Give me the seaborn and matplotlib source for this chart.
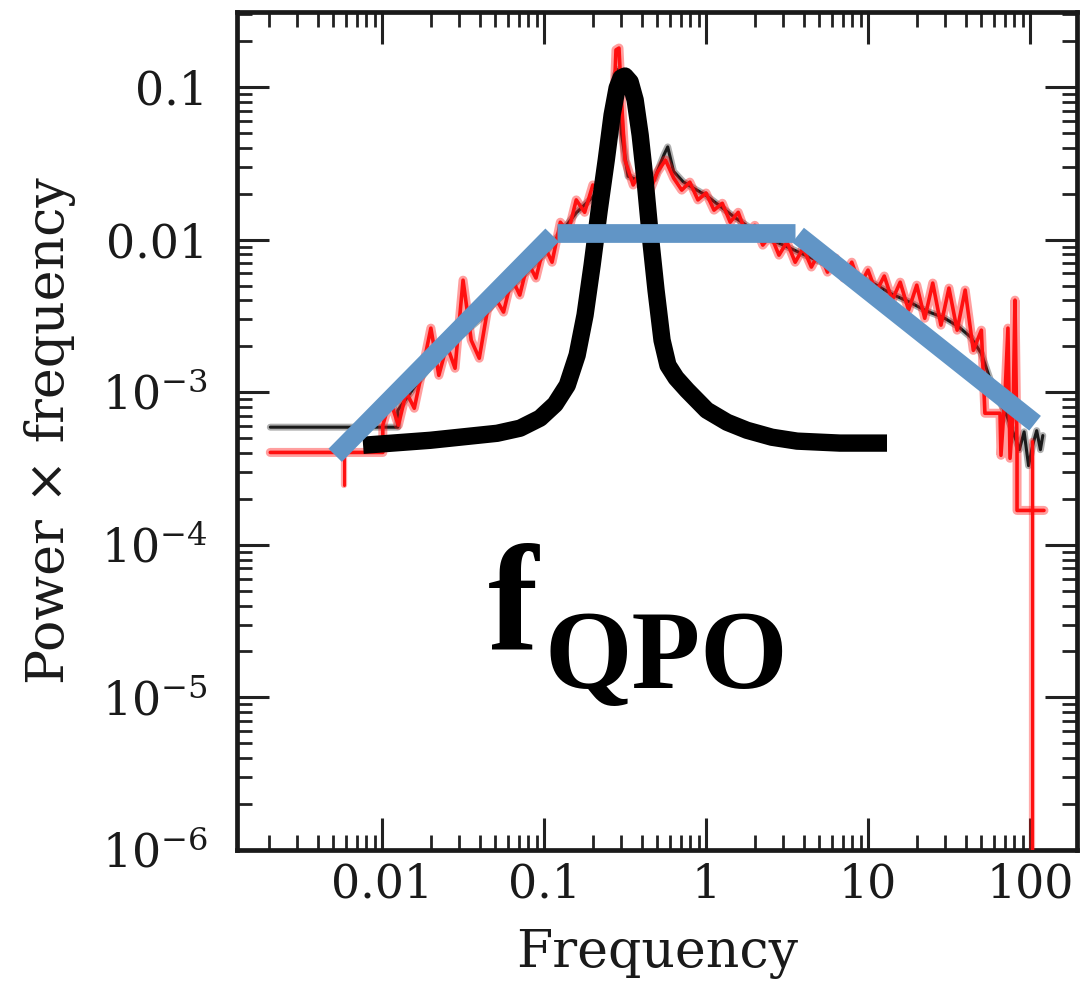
import matplotlib
matplotlib.use("Agg")
import matplotlib.pyplot as plt
import seaborn as sns
from matplotlib.ticker import LogLocator, NullFormatter

# ---- power spectrum (power x frequency), two observations ----
red_freq = [0.00204, 0.0101, 0.0101, 0.0112, 0.0126, 0.0141, 0.0158, 0.0178, 0.0200, 0.0224,
            0.0251, 0.0282, 0.0316, 0.0355, 0.0398, 0.0447, 0.0501, 0.0562, 0.0631, 0.0708,
            0.0794, 0.0891, 0.100, 0.112, 0.126, 0.141, 0.158, 0.178, 0.200, 0.224,
            0.251, 0.267, 0.278, 0.290, 0.303, 0.316, 0.355, 0.398, 0.447, 0.501,
            0.562, 0.631, 0.708, 0.794, 0.891, 1.00, 1.12, 1.26, 1.41, 1.58,
            1.78, 2.00, 2.24, 2.51, 2.82, 3.16, 3.55, 3.98, 4.47, 5.01,
            5.62, 6.31, 7.08, 7.94, 8.91, 10.0, 11.2, 12.6, 14.1, 15.8,
            17.8, 20.0, 22.4, 25.1, 28.2, 31.6, 35.5, 39.8, 44.7, 50.1,
            52.7, 65.3, 66.2, 70.1, 73.1, 75.3, 78.6, 80.8, 83.2, 83.2, 122.0]
red_power = [4.03e-4, 4.03e-4, 6.08e-4, 8.87e-4, 6.08e-4, 1.0e-3, 7.85e-4, 1.435e-3, 2.63e-3, 1.29e-3,
             2.03e-3, 1.435e-3, 5.42e-3, 2.19e-3, 1.67e-3, 3.45e-3, 4.13e-3, 3.35e-3, 5.60e-3, 4.33e-3,
             7.11e-3, 5.60e-3, 9.20e-3, 7.11e-3, 1.30e-2, 1.12e-2, 1.82e-2, 1.51e-2, 2.28e-2, 1.96e-2,
             3.08e-2, 6.08e-2, 0.175, 0.180, 0.0706, 3.32e-2, 2.28e-2, 2.86e-2, 2.05e-2, 2.77e-2,
             3.32e-2, 2.53e-2, 2.11e-2, 2.38e-2, 1.82e-2, 2.02e-2, 1.56e-2, 1.73e-2, 1.30e-2, 1.51e-2,
             1.07e-2, 1.24e-2, 9.20e-3, 1.07e-2, 7.91e-3, 9.64e-3, 7.11e-3, 8.79e-3, 6.61e-3, 8.28e-3,
             6.12e-3, 7.57e-3, 5.60e-3, 7.11e-3, 5.03e-3, 6.31e-3, 4.53e-3, 5.77e-3, 4.01e-3, 5.26e-3,
             3.45e-3, 5.03e-3, 3.05e-3, 5.19e-3, 2.75e-3, 4.81e-3, 2.55e-3, 4.67e-3, 1.88e-3, 2.55e-3,
             7.28e-4, 7.28e-4, 3.86e-4, 9.55e-4, 2.63e-3, 3.69e-4, 7.06e-4, 4.01e-3, 4.17e-4, 1.68e-4, 1.68e-4]

# error bars on the red spectrum (frequency, low, high)
red_err_freq = [0.0058, 103.0]
red_err_low = [2.45e-4, 1.0e-7]
red_err_high = [4.03e-4, 4.8e-4]

black_freq = [0.00204, 0.0125, 0.0125, 0.014, 0.017, 0.020, 0.025, 0.030, 0.040, 0.050,
              0.063, 0.080, 0.100, 0.126, 0.158, 0.200, 0.240, 0.260, 0.275, 0.285,
              0.300, 0.330, 0.400, 0.480, 0.550, 0.580, 0.630, 0.720, 0.850, 1.00,
              1.20, 1.50, 1.90, 2.40, 3.00, 4.00, 5.00, 6.50, 8.50, 11.0,
              14.0, 18.0, 23.0, 29.0, 36.0, 43.0, 50.0, 57.0, 64.0, 72.0,
              80.0, 86.0, 92.0, 98.0, 104.0, 110.0, 116.0, 120.0]
black_power = [5.9e-4, 5.9e-4, 7.6e-4, 9.0e-4, 1.2e-3, 1.5e-3, 1.9e-3, 2.3e-3, 3.0e-3, 3.9e-3,
               4.9e-3, 6.3e-3, 8.0e-3, 1.1e-2, 1.5e-2, 1.9e-2, 2.5e-2, 3.5e-2, 0.12, 0.13,
               0.05, 2.6e-2, 2.4e-2, 2.5e-2, 3.6e-2, 4.05e-2, 2.8e-2, 2.4e-2, 2.15e-2, 1.95e-2,
               1.68e-2, 1.4e-2, 1.18e-2, 1.02e-2, 9.2e-3, 8.0e-3, 7.2e-3, 6.5e-3, 5.8e-3, 5.1e-3,
               4.4e-3, 3.9e-3, 3.4e-3, 3.1e-3, 2.7e-3, 2.3e-3, 1.8e-3, 1.2e-3, 9.0e-4, 7.0e-4,
               5.2e-4, 4.2e-4, 5.5e-4, 3.3e-4, 4.5e-4, 5.6e-4, 4.2e-4, 5.2e-4]

# ---- sketched QPO profile ----
qpo_freq = [0.00763, 0.0198, 0.0513, 0.0711, 0.0945, 0.117, 0.139, 0.160, 0.179, 0.198,
            0.219, 0.242, 0.263, 0.2825, 0.2985, 0.316, 0.340, 0.365, 0.392, 0.420,
            0.451, 0.491, 0.535, 0.582, 0.653, 0.764, 1.01, 1.35, 1.79, 2.55,
            3.65, 6.71, 13.1]
qpo_power = [4.49e-4, 4.84e-4, 5.38e-4, 5.81e-4, 6.76e-4, 8.34e-4, 1.11e-3, 1.75e-3, 3.20e-3, 6.81e-3,
             1.56e-2, 3.32e-2, 6.55e-2, 0.0985, 0.1145, 0.118, 0.108, 0.0822, 0.0484, 0.0246,
             0.0110, 4.67e-3, 2.19e-3, 1.50e-3, 1.24e-3, 1.03e-3, 7.62e-4, 6.35e-4, 5.63e-4, 5.07e-4,
             4.78e-4, 4.64e-4, 4.64e-4]

# ---- broken power law sketch: three straight pieces ----
band_freq = [[0.00513, 0.112], [0.120, 3.54], [3.70, 107.5]]
band_power = [[3.86e-4, 0.0107], [0.0110, 0.0110], [0.0107, 6.26e-4]]

x_ticks = [0.01, 0.1, 1, 10, 100]
x_ticklabels = ["0.01", "0.1", "1", "10", "100"]
y_ticks = [1e-6, 1e-5, 1e-4, 1e-3, 1e-2, 1e-1]
y_ticklabels = ["$10^{-6}$", "$10^{-5}$", "$10^{-4}$", "$10^{-3}$", "0.01", "0.1"]

sns.set_theme(style="ticks")
plt.rcParams["font.family"] = ["DejaVu Serif", "DejaVu Sans"]
plt.rcParams["mathtext.fontset"] = "dejavuserif"

fig = plt.figure(figsize=(10.84, 9.93), dpi=100)
ax = fig.add_axes([0.2186, 0.1440, 0.7749, 0.8439])
ax.set_xscale("log")
ax.set_yscale("log")

RED = "#ff1010"
BLUE = "#6195C6"


def trace(x, y, color, lw, z, alpha=1.0):
    sns.lineplot(x=x, y=y, sort=False, estimator=None, color=color, lw=lw,
                 alpha=alpha, ax=ax, zorder=z)
    return ax.lines[-1]


# spectra: a soft wide stroke under a sharp core gives the smeared look
trace(black_freq, black_power, "#1a1a1a", 5.0, 2, alpha=0.35)
trace(black_freq, black_power, "#1a1a1a", 2.2, 2)
trace(red_freq, red_power, RED, 6.5, 3, alpha=0.4)
trace(red_freq, red_power, RED, 2.6, 3)
for f, lo, hi in zip(red_err_freq, red_err_low, red_err_high):
    trace([f, f], [lo, hi], RED, 4.5, 3, alpha=0.35)
    trace([f, f], [lo, hi], RED, 2.2, 3)

qpo = trace(qpo_freq, qpo_power, "black", 12.5, 4)
qpo.set_solid_joinstyle("round")
qpo.set_solid_capstyle("butt")

for bf, bp in zip(band_freq, band_power):
    seg = trace(bf, bp, BLUE, 13.5, 5)
    seg.set_solid_capstyle("butt")

ax.set_xlim(0.00127, 195)
ax.set_ylim(1e-6, 0.31)

ax.set_xticks(x_ticks)
ax.set_xticklabels(x_ticklabels)
ax.set_yticks(y_ticks)
ax.set_yticklabels(y_ticklabels)
for axis in (ax.xaxis, ax.yaxis):
    axis.set_minor_locator(LogLocator(base=10, subs=range(2, 10), numticks=30))
    axis.set_minor_formatter(NullFormatter())

ax.tick_params(which="major", direction="in", length=23, width=2.2, color="#222222",
               top=True, right=True, labelsize=33, labelcolor="#1a1a1a")
ax.tick_params(axis="x", which="major", pad=9)
ax.tick_params(axis="y", which="major", pad=21)
ax.tick_params(which="minor", direction="in", length=11, width=2.0, color="#222222",
               top=True, right=True)
for sp in ax.spines.values():
    sp.set_linewidth(3.4)
    sp.set_color("#1a1a1a")

ax.set_xlabel("Frequency", fontsize=37.5, color="#1a1a1a")
ax.set_ylabel("Power \u00d7 frequency", fontsize=37.5, color="#1a1a1a")
ax.xaxis.set_label_coords(0.5, -0.093)
ax.yaxis.set_label_coords(-0.192, 0.5)

ax.text(0.2988, 0.2387, "f", transform=ax.transAxes, fontsize=109, fontweight="bold",
        family="Liberation Serif", ha="left", va="baseline", color="black")
ax.text(0.3667, 0.1933, "QPO", transform=ax.transAxes, fontsize=81, fontweight="bold",
        family="Liberation Serif", ha="left", va="baseline", color="black")

fig.savefig("out.png", dpi=100, facecolor="white")
